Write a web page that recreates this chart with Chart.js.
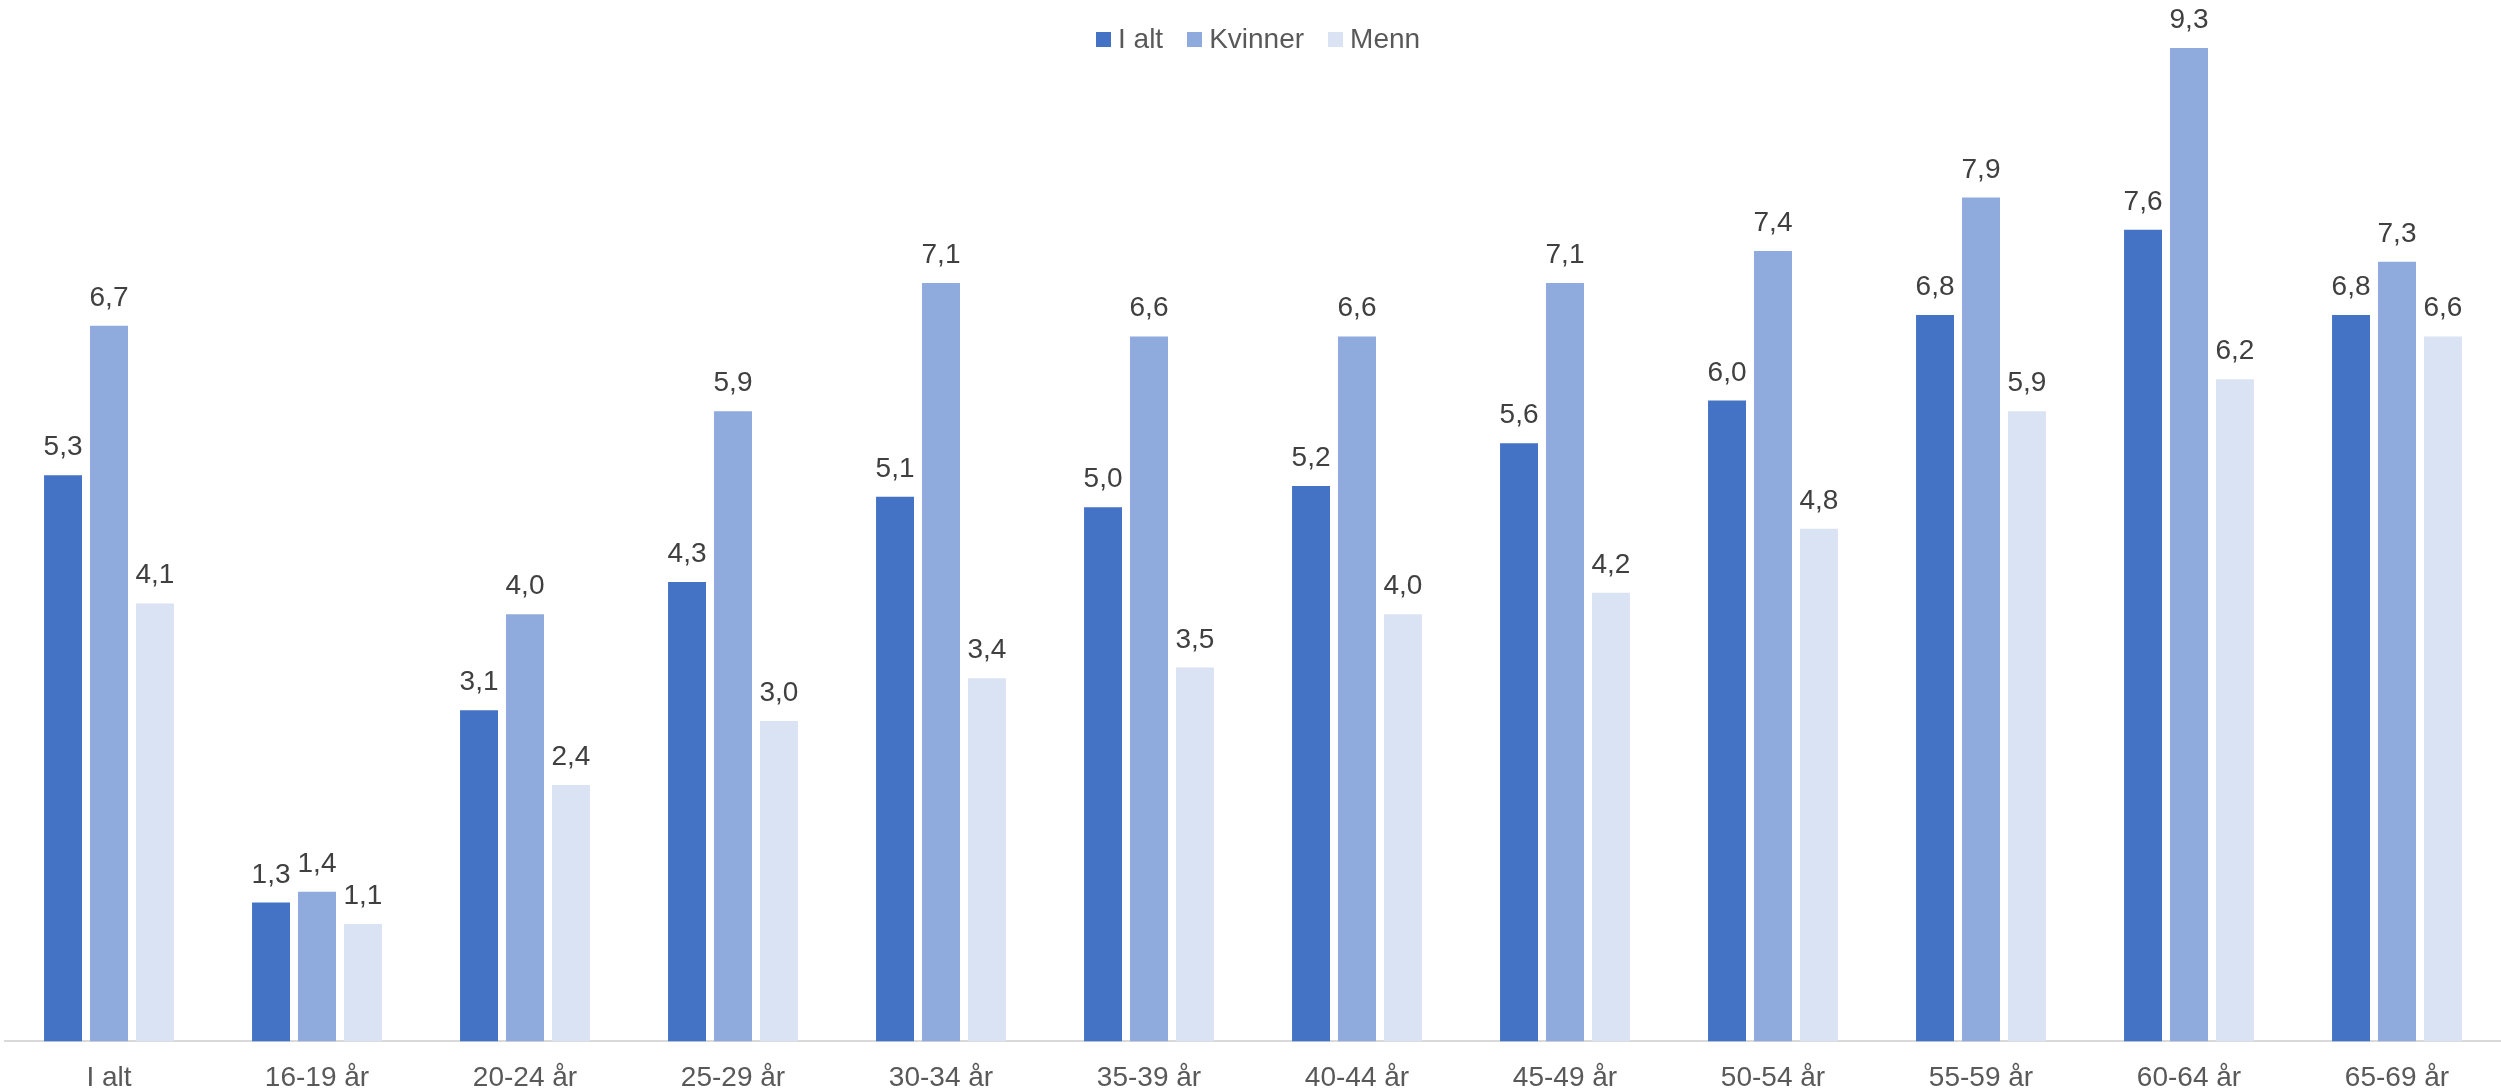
<!DOCTYPE html>
<html>
<head>
<meta charset="utf-8">
<script src="https://cdn.jsdelivr.net/npm/chart.js@4.4.1/dist/chart.umd.min.js"></script>
<style>
  html, body { margin: 0; padding: 0; background: #fff; }
  #wrap { position: relative; width: 2501px; height: 1091px; }
  #legend {
    position: absolute; top: 23px; left: 1096px;
    display: flex; align-items: center;
    font: 28px "Liberation Sans", Arial, sans-serif; color: #595959;
  }
  #legend span.box { display: inline-block; width: 15px; height: 15px; margin-right: 7px; }
  #legend span.item { display: flex; align-items: center; margin-right: 24px; }
</style>
</head>
<body>
<div id="wrap">
  <canvas id="chart" width="2501" height="1091"></canvas>
  <div id="legend"></div>
</div>
<script>
const categories = ['I alt', '16-19 år', '20-24 år', '25-29 år', '30-34 år', '35-39 år',
  '40-44 år', '45-49 år', '50-54 år', '55-59 år', '60-64 år', '65-69 år'];
const iAlt    = [5.3, 1.3, 3.1, 4.3, 5.1, 5.0, 5.2, 5.6, 6.0, 6.8, 7.6, 6.8];
const kvinner = [6.7, 1.4, 4.0, 5.9, 7.1, 6.6, 6.6, 7.1, 7.4, 7.9, 9.3, 7.3];
const menn    = [4.1, 1.1, 2.4, 3.0, 3.4, 3.5, 4.0, 4.2, 4.8, 5.9, 6.2, 6.6];

const seriesNames = ['I alt', 'Kvinner', 'Menn'];
const colors = ['#4472C4', '#8FAADC', '#DAE3F3'];

// legend as html, placed like the original
const leg = document.getElementById('legend');
seriesNames.forEach((n, i) => {
  const it = document.createElement('span');
  it.className = 'item';
  it.innerHTML = `<span class="box" style="background:${colors[i]}"></span>${n}`;
  leg.appendChild(it);
});

// value labels above bars
const barLabels = {
  id: 'barLabels',
  afterDatasetsDraw(chart) {
    const c = chart.ctx;
    c.save();
    c.font = '28px "Liberation Sans", Arial, sans-serif';
    c.fillStyle = '#404040';
    c.textAlign = 'center';
    c.textBaseline = 'alphabetic';
    chart.data.datasets.forEach((ds, di) => {
      chart.getDatasetMeta(di).data.forEach((bar, i) => {
        c.fillText(ds.data[i].toFixed(1).replace('.', ','), bar.x, bar.y - 20);
      });
    });
    c.restore();
  }
};

new Chart(document.getElementById('chart'), {
  type: 'bar',
  data: {
    labels: categories,
    datasets: [
      { label: seriesNames[0], data: iAlt, backgroundColor: colors[0] },
      { label: seriesNames[1], data: kvinner, backgroundColor: colors[1] },
      { label: seriesNames[2], data: menn, backgroundColor: colors[2] }
    ]
  },
  options: {
    responsive: false,
    animation: false,
    devicePixelRatio: 1,
    categoryPercentage: 0.663,
    barPercentage: 0.826,
    layout: { padding: { left: 5, right: -5, top: 0, bottom: -24 } },
    plugins: { legend: { display: false }, tooltip: { enabled: false } },
    scales: {
      x: {
        grid: { display: false, drawTicks: false },
        border: { display: true, color: '#D9D9D9', width: 2 },
        ticks: { color: '#595959', padding: 20, font: { size: 28, family: '"Liberation Sans", Arial, sans-serif' } }
      },
      y: { display: false, min: 0, max: 9.75 }
    }
  },
  plugins: [barLabels]
});
</script>
</body>
</html>
